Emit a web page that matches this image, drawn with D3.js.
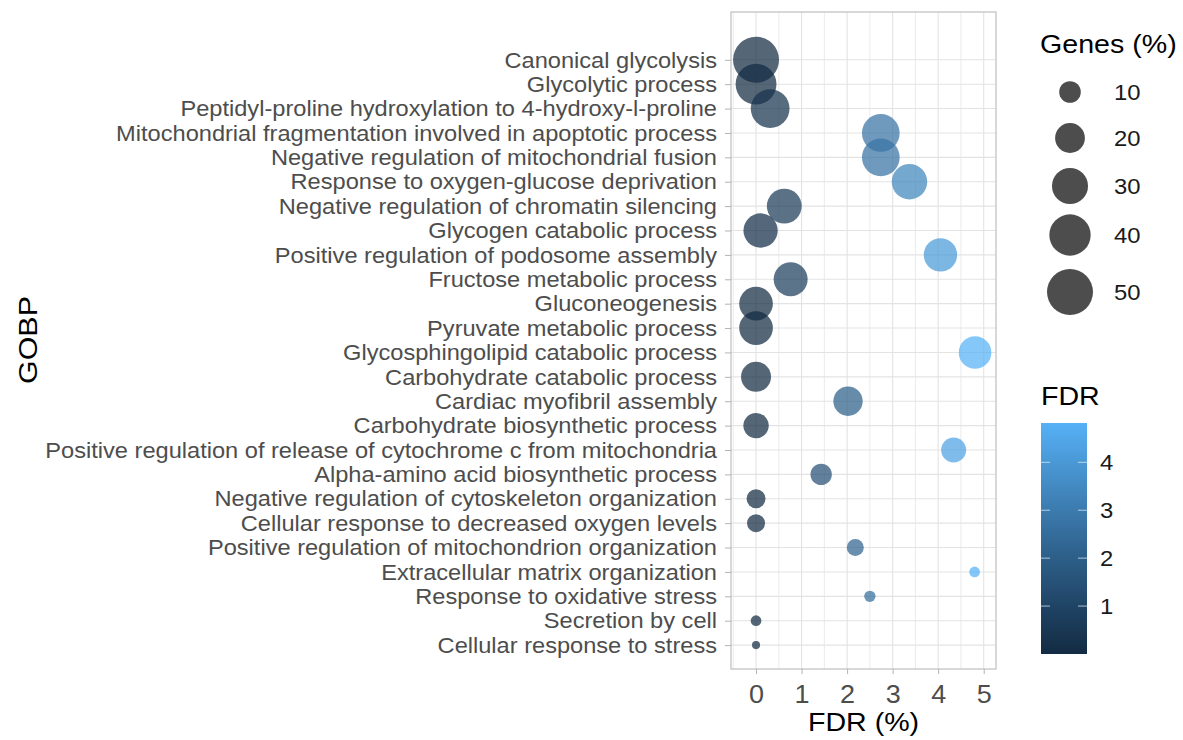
<!DOCTYPE html>
<html>
<head>
<meta charset="utf-8">
<script src="https://cdn.jsdelivr.net/npm/d3@7"></script>
<style>
  body { margin: 0; background: #fff; }
  text { font-family: "Liberation Sans", Arial, sans-serif; }
</style>
</head>
<body>
<div id="chart"></div>
<script>
// GO biological process terms, top to bottom
var terms = [
    "Canonical glycolysis",
    "Glycolytic process",
    "Peptidyl-proline hydroxylation to 4-hydroxy-l-proline",
    "Mitochondrial fragmentation involved in apoptotic process",
    "Negative regulation of mitochondrial fusion",
    "Response to oxygen-glucose deprivation",
    "Negative regulation of chromatin silencing",
    "Glycogen catabolic process",
    "Positive regulation of podosome assembly",
    "Fructose metabolic process",
    "Gluconeogenesis",
    "Pyruvate metabolic process",
    "Glycosphingolipid catabolic process",
    "Carbohydrate catabolic process",
    "Cardiac myofibril assembly",
    "Carbohydrate biosynthetic process",
    "Positive regulation of release of cytochrome c from mitochondria",
    "Alpha-amino acid biosynthetic process",
    "Negative regulation of cytoskeleton organization",
    "Cellular response to decreased oxygen levels",
    "Positive regulation of mitochondrion organization",
    "Extracellular matrix organization",
    "Response to oxidative stress",
    "Secretion by cell",
    "Cellular response to stress"
];

// FDR (%) for each term
var fdr = [0, 0, 0.31, 2.74, 2.74, 3.37, 0.62, 0.1, 4.05, 0.76, 0, 0, 4.81,
    0, 2.02, 0, 4.34, 1.43, 0, 0, 2.18, 4.8, 2.5, 0, 0];

// Genes (%) for each term
var genes = [50, 39, 35, 33, 33, 29, 28, 27, 25.5, 26.5, 26, 26, 24.3,
    20.3, 19.4, 14.2, 13.8, 9.7, 7.5, 6.7, 5.9, 2, 2.3, 2, 1];

var xTicks = [0, 1, 2, 3, 4, 5];
var sizeBreaks = [10, 20, 30, 40, 50];
var colorTicks = [1, 2, 3, 4];

var data = terms.map(function (t, i) {
    return { term: t, fdr: fdr[i], genes: genes[i], idx: i };
});

var svgWidth = 1183, svgHeight = 740;

var svg = d3.select("#chart")
    .append("svg")
    .attr("width", svgWidth)
    .attr("height", svgHeight);

// panel box
var panel = { left: 731, right: 996, top: 12, bottom: 669 };

var xScale = d3.scaleLinear()
    .domain([-0.55, 5.27])
    .range([panel.left, panel.right]);

// discrete rows, extra room above the first row
var yScale = d3.scaleLinear()
    .domain([-1.96, terms.length - 1 + 0.98])
    .range([panel.top, panel.bottom]);

var rScale = d3.scaleSqrt()
    .domain([0, 50])
    .range([0.93, 23]);

var colorScale = d3.scaleLinear()
    .domain([0, 4.82])
    .range(["#132B43", "#56B1F7"])
    .interpolate(d3.interpolateLab);

// grid
var grid = svg.append("g");
d3.range(-0.5, 5.5, 0.5).forEach(function (v) {
    var x = xScale(v);
    if (x <= panel.left || x >= panel.right) return;
    grid.append("line")
        .attr("x1", x).attr("x2", x)
        .attr("y1", panel.top).attr("y2", panel.bottom)
        .attr("stroke", "#e3e3e3")
        .attr("stroke-width", Number.isInteger(v) ? 1.1 : 0.7);
});
terms.forEach(function (t, i) {
    grid.append("line")
        .attr("x1", panel.left).attr("x2", panel.right)
        .attr("y1", yScale(i)).attr("y2", yScale(i))
        .attr("stroke", "#e3e3e3")
        .attr("stroke-width", 1.1);
});

// points
svg.append("g")
    .selectAll("circle")
    .data(data)
    .enter()
    .append("circle")
    .attr("cx", d => xScale(d.fdr))
    .attr("cy", d => yScale(d.idx))
    .attr("r", d => rScale(d.genes))
    .attr("fill", d => colorScale(d.fdr))
    .attr("fill-opacity", 0.72);

// panel border
svg.append("rect")
    .attr("x", panel.left).attr("y", panel.top)
    .attr("width", panel.right - panel.left)
    .attr("height", panel.bottom - panel.top)
    .attr("fill", "none")
    .attr("stroke", "#c4c4c4")
    .attr("stroke-width", 1.3);

// axes
var bottomAxis = d3.axisBottom(xScale)
    .tickValues(xTicks)
    .tickSize(5)
    .tickPadding(11)
    .tickFormat(d3.format("d"));

var xAxis = svg.append("g")
    .attr("transform", `translate(0, ${panel.bottom})`)
    .call(bottomAxis);

var leftAxis = d3.axisLeft(yScale)
    .tickValues(d3.range(terms.length))
    .tickSize(6)
    .tickPadding(8)
    .tickFormat(i => terms[i]);

var yAxis = svg.append("g")
    .attr("transform", `translate(${panel.left}, 0)`)
    .call(leftAxis);

[xAxis, yAxis].forEach(function (ax) {
    ax.select(".domain").remove();
    ax.selectAll(".tick line").attr("stroke", "#b3b3b3");
    ax.selectAll(".tick text").attr("fill", "#4d4d4d");
});
// labels in the original are a touch wider than Arial
yAxis.selectAll(".tick text")
    .style("font-size", "22.5px")
    .attr("x", 0)
    .attr("transform", "translate(-14,0) scale(1.05,1)");
xAxis.selectAll(".tick text")
    .style("font-size", "25px")
    .attr("transform", "scale(1.08,1)");

// axis titles
svg.append("text")
    .attr("transform", `translate(${(panel.left + panel.right) / 2}, 731) scale(1.1,1)`)
    .attr("text-anchor", "middle")
    .style("font-size", "26px")
    .attr("fill", "#000")
    .text("FDR (%)");

svg.append("text")
    .attr("transform", `translate(37, 340) rotate(-90) scale(1.17,1)`)
    .attr("text-anchor", "middle")
    .style("font-size", "26px")
    .attr("fill", "#000")
    .text("GOBP");

// size legend
var sizeLegend = svg.append("g");
sizeLegend.append("text")
    .attr("transform", "translate(1040,53) scale(1.1,1)")
    .style("font-size", "26px")
    .attr("fill", "#000")
    .text("Genes (%)");

var sizeY = [92, 138, 186, 235, 292];
sizeBreaks.forEach(function (b, i) {
    sizeLegend.append("circle")
        .attr("cx", 1070).attr("cy", sizeY[i])
        .attr("r", rScale(b))
        .attr("fill", "#4d4d4d");
    sizeLegend.append("text")
        .attr("transform", `translate(1114,${sizeY[i]}) scale(1.06,1)`)
        .attr("dy", "0.35em")
        .style("font-size", "22.5px")
        .attr("fill", "#1a1a1a")
        .text(b);
});

// colour bar legend
var bar = { x: 1041, y: 423, w: 46, h: 231 };
var colorY = d3.scaleLinear()
    .domain([0, 4.82])
    .range([bar.y + bar.h, bar.y]);

var defs = svg.append("defs");
var grad = defs.append("linearGradient")
    .attr("id", "fdrGrad")
    .attr("x1", "0").attr("x2", "0")
    .attr("y1", "1").attr("y2", "0");
d3.range(0, 1.0001, 0.1).forEach(function (t) {
    grad.append("stop")
        .attr("offset", t)
        .attr("stop-color", colorScale(t * 4.82));
});

var colorLegend = svg.append("g");
colorLegend.append("text")
    .attr("transform", "translate(1041,405) scale(1.1,1)")
    .style("font-size", "26px")
    .attr("fill", "#000")
    .text("FDR");

colorLegend.append("rect")
    .attr("x", bar.x).attr("y", bar.y)
    .attr("width", bar.w).attr("height", bar.h)
    .attr("fill", "url(#fdrGrad)");

colorTicks.forEach(function (t) {
    var y = colorY(t);
    colorLegend.append("line")
        .attr("x1", bar.x).attr("x2", bar.x + 9)
        .attr("y1", y).attr("y2", y)
        .attr("stroke", "#e8f2fb").attr("stroke-opacity", 0.7);
    colorLegend.append("line")
        .attr("x1", bar.x + bar.w - 9).attr("x2", bar.x + bar.w)
        .attr("y1", y).attr("y2", y)
        .attr("stroke", "#e8f2fb").attr("stroke-opacity", 0.7);
    colorLegend.append("text")
        .attr("transform", `translate(1100,${y}) scale(1.06,1)`)
        .attr("dy", "0.35em")
        .style("font-size", "22.5px")
        .attr("fill", "#1a1a1a")
        .text(t);
});
</script>
</body>
</html>
